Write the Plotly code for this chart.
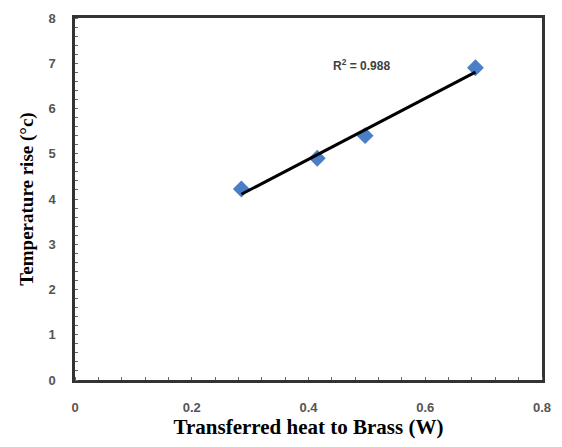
import numpy as np
import plotly.graph_objects as go

# Measured data: heat transferred to brass vs temperature rise
heat_w = [0.285, 0.415, 0.497, 0.686]
temp_rise = [4.22, 4.9, 5.4, 6.9]

x_ticks = [0, 0.2, 0.4, 0.6, 0.8]
x_tick_text = ["0", "0.2", "0.4", "0.6", "0.8"]
y_ticks = [0, 1, 2, 3, 4, 5, 6, 7, 8]

# Least-squares linear trendline and its R^2
x = np.array(heat_w)
y = np.array(temp_rise)
slope, intercept = np.polyfit(x, y, 1)
fit = slope * x + intercept
r2 = 1 - np.sum((y - fit) ** 2) / np.sum((y - y.mean()) ** 2)
x_line = np.array([x.min(), x.max()])
y_line = slope * x_line + intercept

fig = go.Figure()
fig.add_trace(go.Scatter(
    x=heat_w, y=temp_rise, mode="markers",
    marker=dict(symbol="diamond", size=13, color="#4A7EC6",
                line=dict(width=0)),
    showlegend=False,
))
fig.add_trace(go.Scatter(
    x=x_line, y=y_line, mode="lines",
    line=dict(color="black", width=3),
    showlegend=False,
))

fig.add_annotation(
    x=0.49, y=6.97, xref="x", yref="y",
    text=f"R<sup>2</sup> = {r2:.3f}", showarrow=False,
    font=dict(family="Liberation Sans", size=12, color="#404040", weight="bold"),
)

axis_line = dict(showline=True, linecolor="#333333", linewidth=2.5, mirror=True,
                 showgrid=False, zeroline=False)
tick_font = dict(family="Liberation Sans", size=13, color="#555555", weight="bold")

fig.update_xaxes(
    range=[0, 0.8], tickvals=x_ticks, ticktext=x_tick_text,
    ticks="", ticklabelstandoff=14, tickfont=tick_font,
    minor=dict(dtick=0.04, ticks="inside", ticklen=3, tickcolor="#666666", tickwidth=1),
    title=dict(text="Transferred heat to Brass (W)",
               font=dict(family="Liberation Serif", size=21, color="black", weight="bold"),
               standoff=4),
    **axis_line,
)
fig.update_yaxes(
    range=[0, 8], tickvals=y_ticks,
    ticks="", ticklabelstandoff=14, tickfont=tick_font,
    minor=dict(dtick=0.2, ticks="inside", ticklen=3, tickcolor="#666666", tickwidth=1),
    title=dict(text="Temperature rise (°c)",
               font=dict(family="Liberation Serif", size=19, color="black", weight="bold"),
               standoff=10),
    **axis_line,
)

fig.update_layout(
    width=562, height=447,
    margin=dict(l=75, r=11, t=15, b=67),
    plot_bgcolor="white", paper_bgcolor="white",
)

fig.write_html("out.html")
